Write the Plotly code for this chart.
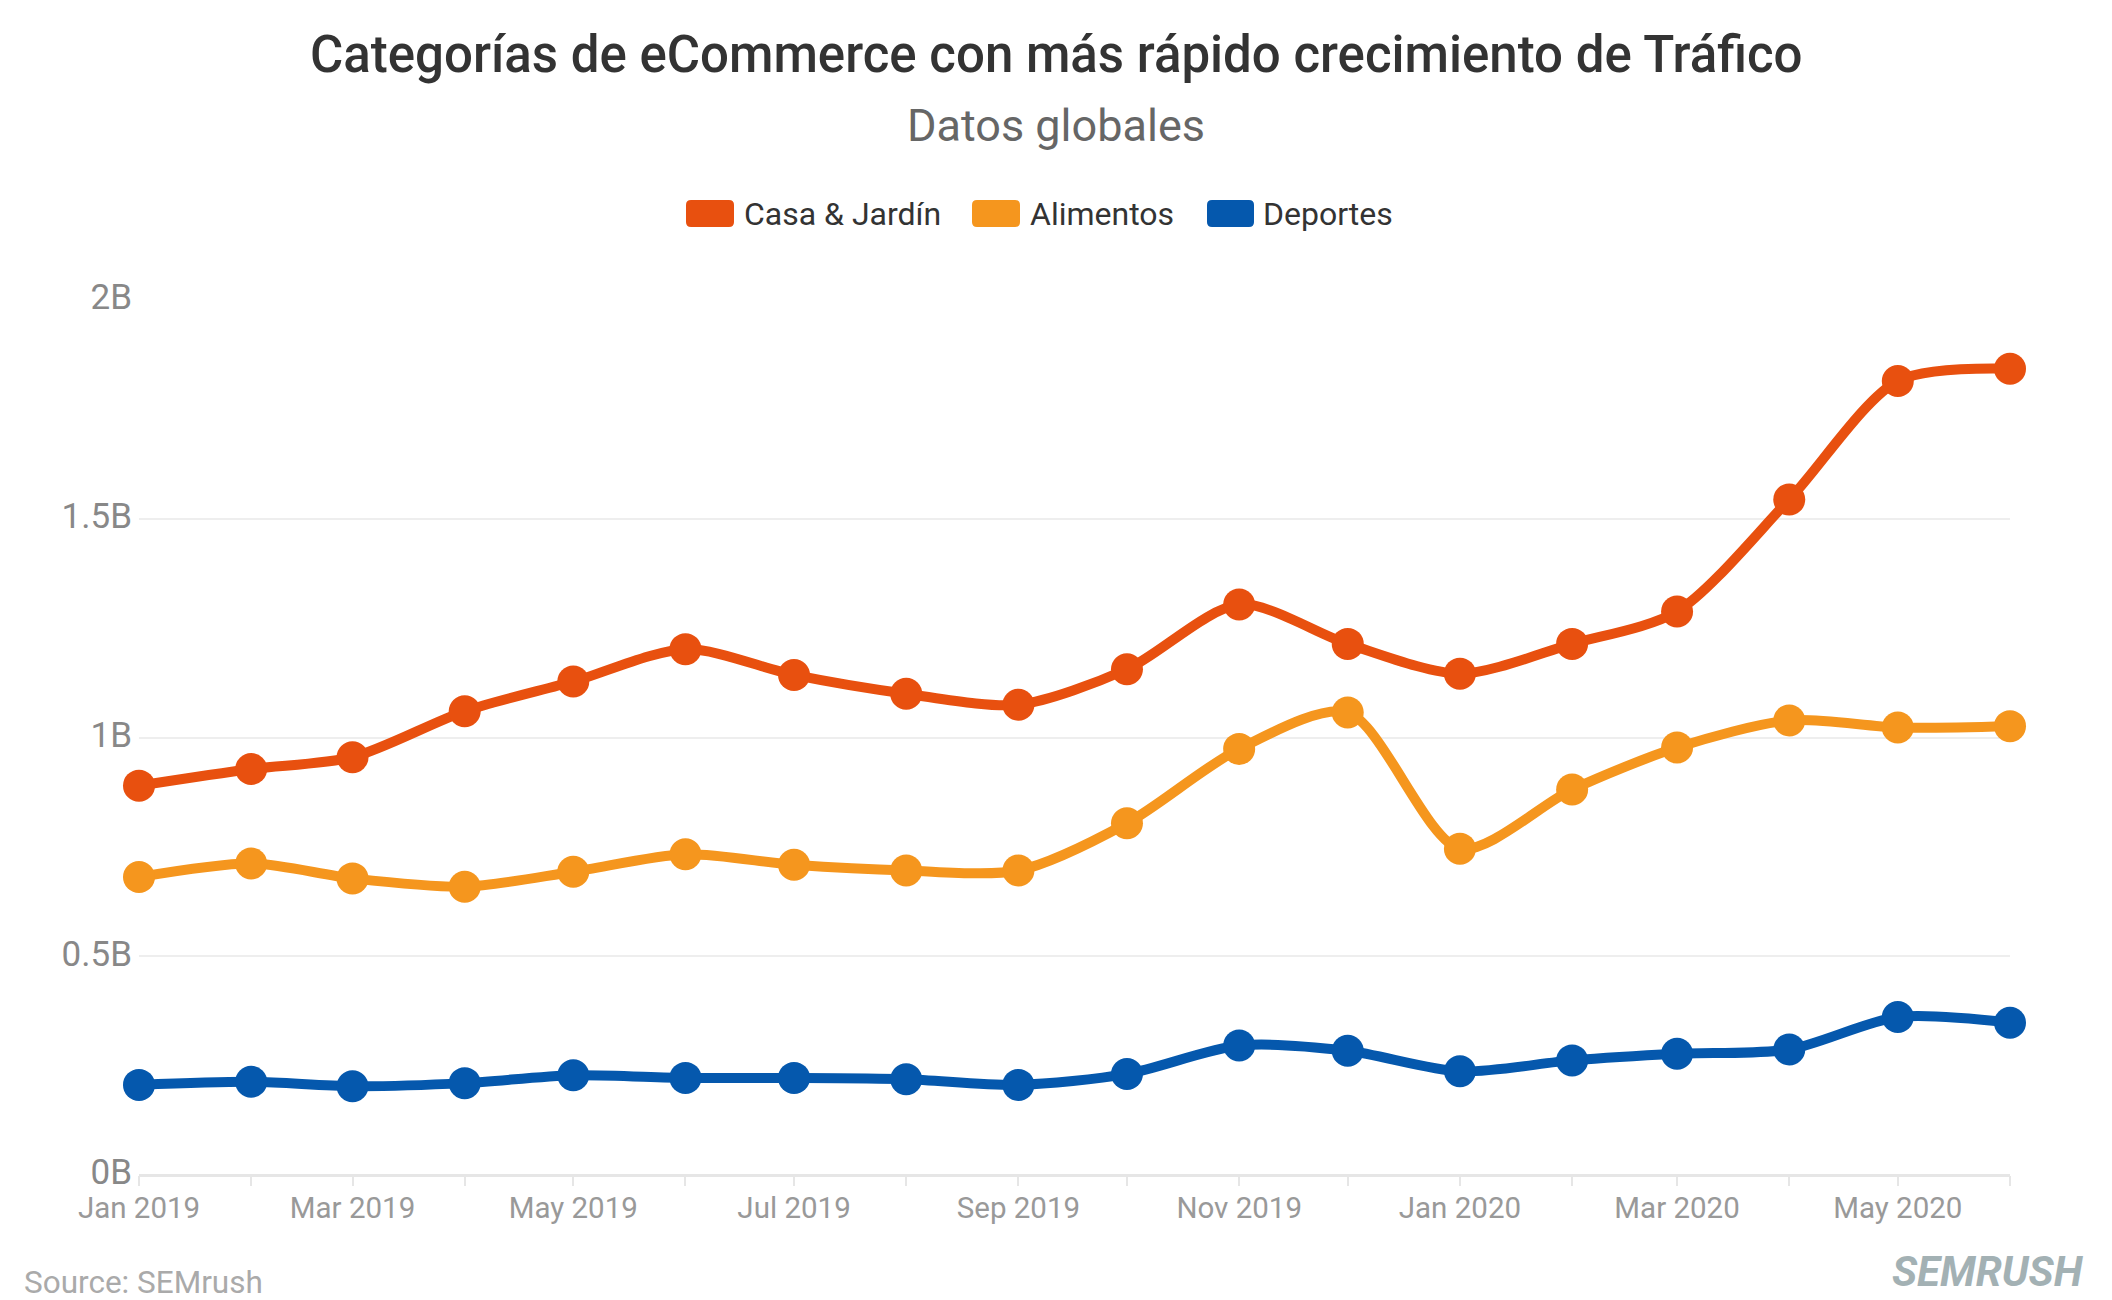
import plotly.graph_objects as go

months = ["2019-01-01", "2019-02-01", "2019-03-01", "2019-04-01", "2019-05-01", "2019-06-01",
          "2019-07-01", "2019-08-01", "2019-09-01", "2019-10-01", "2019-11-01", "2019-12-01",
          "2020-01-01", "2020-02-01", "2020-03-01", "2020-04-01", "2020-05-01", "2020-06-01"]

casa_jardin = [0.890, 0.928, 0.955, 1.060, 1.128, 1.202, 1.143, 1.100, 1.075, 1.156, 1.304, 1.214,
               1.146, 1.214, 1.288, 1.544, 1.815, 1.843]
alimentos = [0.681, 0.712, 0.678, 0.659, 0.693, 0.733, 0.709, 0.696, 0.696, 0.804, 0.974, 1.057,
             0.746, 0.881, 0.977, 1.039, 1.023, 1.026]
deportes = [0.206, 0.213, 0.203, 0.210, 0.228, 0.222, 0.222, 0.219, 0.206, 0.231, 0.296, 0.284,
            0.237, 0.262, 0.277, 0.287, 0.361, 0.348]

series_names = ["Casa & Jardín", "Alimentos", "Deportes"]
series_values = [casa_jardin, alimentos, deportes]
colors = ["#E8500F", "#F5961E", "#0558AD"]

y_tickvals = [0, 0.5e9, 1e9, 1.5e9, 2e9]
y_ticktext = ["0B", "0.5B", "1B", "1.5B", "2B"]

# The page body adds an 8px offset; work in reference pixels and subtract it.
OFF = 8
W, H = 2112 - OFF, 1300 - OFF
ML, MT = 139 - OFF, 300 - OFF
PLOT_RIGHT, PLOT_BOTTOM = 2010 - OFF, 1175 - OFF
MR, MB = W - PLOT_RIGHT, H - PLOT_BOTTOM
PW, PH = PLOT_RIGHT - ML, PLOT_BOTTOM - MT


def px_x(px):
    return (px - OFF - ML) / PW


def px_y(py):
    return (PLOT_BOTTOM - (py - OFF)) / PH


FONT = "Roboto"

fig = go.Figure()
for name, vals, col in zip(series_names, series_values, colors):
    fig.add_trace(go.Scatter(
        x=months, y=[v * 1e9 for v in vals], name=name,
        mode="lines+markers",
        line=dict(color=col, width=10, shape="spline", smoothing=0.8),
        marker=dict(color=col, size=32),
        cliponaxis=False,
        showlegend=False,
    ))

# Manual legend (rounded swatches)
legend_items = [(686, 734, 744), (972, 1020, 1030), (1207, 1254, 1263)]
shapes = []
annotations = []
ly0, ly1 = 200, 227
r = 5


def P(x, y):
    return f"{px_x(x):.6f},{px_y(y):.6f}"


for (sx0, sx1, tx), name, col in zip(legend_items, series_names, colors):
    path = (f"M {P(sx0 + r, ly0)} L {P(sx1 - r, ly0)} Q {P(sx1, ly0)} {P(sx1, ly0 + r)} "
            f"L {P(sx1, ly1 - r)} Q {P(sx1, ly1)} {P(sx1 - r, ly1)} "
            f"L {P(sx0 + r, ly1)} Q {P(sx0, ly1)} {P(sx0, ly1 - r)} "
            f"L {P(sx0, ly0 + r)} Q {P(sx0, ly0)} {P(sx0 + r, ly0)} Z")
    shapes.append(dict(type="path", path=path, xref="paper", yref="paper",
                       fillcolor=col, line=dict(width=0)))
    annotations.append(dict(text=name, x=px_x(tx - 2), y=px_y(213.5), xref="paper", yref="paper",
                            xanchor="left", yanchor="middle", showarrow=False,
                            font=dict(family=FONT, size=32, color="#333333")))

annotations.append(dict(text="Categorías de eCommerce con más rápido crecimiento de Tráfico",
                        x=px_x(1056), y=px_y(54), xref="paper", yref="paper",
                        xanchor="center", yanchor="middle", showarrow=False,
                        font=dict(family=FONT, size=51, color="#333333", weight=500)))
annotations.append(dict(text="Datos globales", x=px_x(1056), y=px_y(125),
                        xref="paper", yref="paper", xanchor="center", yanchor="middle",
                        showarrow=False, font=dict(family=FONT, size=45, color="#666666")))
annotations.append(dict(text="Source: SEMrush", x=px_x(22), y=px_y(1282),
                        xref="paper", yref="paper", xanchor="left", yanchor="middle",
                        showarrow=False, font=dict(family=FONT, size=31.5, color="#AAAAAA")))
annotations.append(dict(text="<b><i>SEMRUSH</i></b>", x=px_x(2086), y=px_y(1298),
                        xref="paper", yref="paper", xanchor="right", yanchor="bottom",
                        showarrow=False, font=dict(family=FONT, size=42, color="#A3B1B4")))

fig.update_layout(
    width=W, height=H,
    margin=dict(l=ML, r=MR, t=MT, b=MB),
    paper_bgcolor="white", plot_bgcolor="white",
    font=dict(family=FONT),
    shapes=shapes, annotations=annotations,
)

fig.update_xaxes(
    type="date",
    range=[months[0], months[-1]],
    dtick="M1", tick0=months[0],
    tickformat="%b %Y", ticklabelstep=2,
    ticks="outside", ticklen=10, tickwidth=2, tickcolor="#E6E6E6",
    showgrid=False, showline=False, zeroline=False,
    ticklabelstandoff=-3,
    tickfont=dict(family=FONT, size=29.5, color="#999999"),
)
fig.update_yaxes(
    range=[0, 2e9],
    tickvals=y_tickvals, ticktext=y_ticktext,
    showgrid=True, gridcolor="#EEEEEE", gridwidth=2,
    zeroline=True, zerolinecolor="#E6E6E6", zerolinewidth=3,
    ticks="", ticklabelstandoff=6, ticklabelshift=-3,
    tickfont=dict(family=FONT, size=35, color="#888888"),
)

fig.write_html("out.html")
